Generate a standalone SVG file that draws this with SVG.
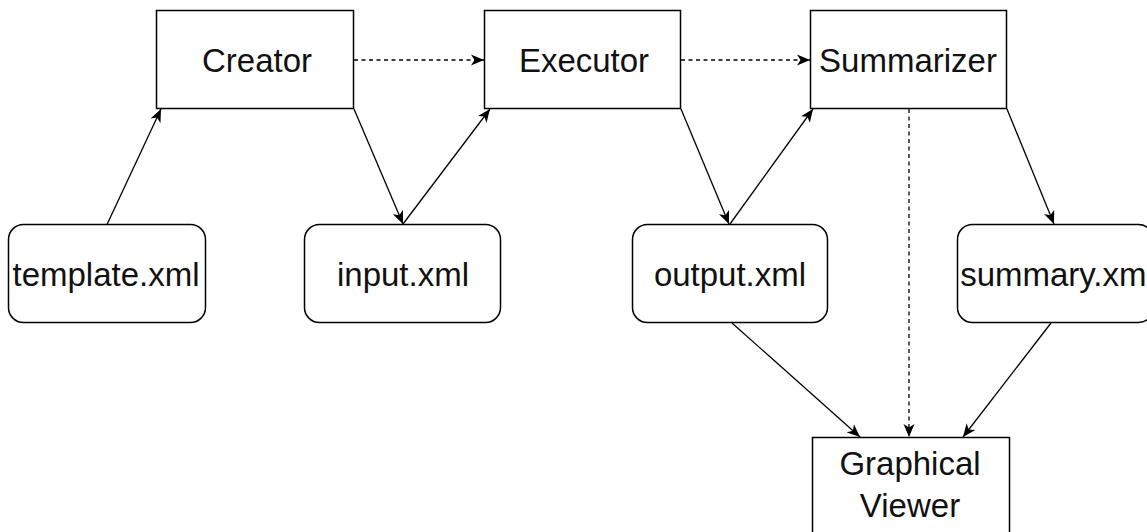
<svg xmlns="http://www.w3.org/2000/svg" width="1147" height="532" viewBox="0 0 1147 532">
<style>
.box{fill:#fff;stroke:#000;stroke-width:1.5}
.lbl{font-family:"Liberation Sans",Arial,sans-serif;font-size:33px;fill:#111;text-anchor:middle}
.edge{fill:none;stroke:#000;stroke-width:1.3}
.dash{stroke-dasharray:4 3.5}
</style>
<defs>
<marker id="arr" markerUnits="userSpaceOnUse" markerWidth="14" markerHeight="12" viewBox="0 0 14 12" refX="13" refY="6" orient="auto">
<path d="M0,0.5 L13,6 L0,11.5 L3.5,6 Z" fill="#000"/>
</marker>
</defs>
<rect width="1147" height="532" fill="#fff"/>
<g id="connectors">
<path class="edge" d="M107,224.5 L161,109" marker-end="url(#arr)"/>
<path class="edge" d="M354,109 L403,224" marker-end="url(#arr)"/>
<path class="edge" d="M403,224 L490,109" marker-end="url(#arr)"/>
<path class="edge dash" d="M354,60 L484,60" marker-end="url(#arr)"/>
<path class="edge" d="M681,109 L729,224" marker-end="url(#arr)"/>
<path class="edge" d="M730,224 L813,109" marker-end="url(#arr)"/>
<path class="edge dash" d="M681,60 L810,60" marker-end="url(#arr)"/>
<path class="edge" d="M1007,109 L1054,224" marker-end="url(#arr)"/>
<path class="edge dash" d="M909,109 L909,437" marker-end="url(#arr)"/>
<path class="edge" d="M732,323 L860,437" marker-end="url(#arr)"/>
<path class="edge" d="M1051,323 L963,437" marker-end="url(#arr)"/>
</g>
<g id="creator">
<rect class="box" x="156.5" y="10.5" width="197" height="98"/>
<text class="lbl" x="257" y="72">Creator</text>
</g>
<g id="executor">
<rect class="box" x="484.5" y="10.5" width="196" height="98"/>
<text class="lbl" x="584" y="72">Executor</text>
</g>
<g id="summarizer">
<rect class="box" x="810.5" y="10.5" width="196" height="98"/>
<text class="lbl" x="908" y="72">Summarizer</text>
</g>
<g id="template">
<rect class="box" x="8.5" y="224.5" width="197" height="98" rx="15" ry="15"/>
<text class="lbl" x="106" y="286">template.xml</text>
</g>
<g id="input">
<rect class="box" x="304.5" y="224.5" width="196" height="98" rx="15" ry="15"/>
<text class="lbl" x="403" y="286">input.xml</text>
</g>
<g id="output">
<rect class="box" x="632.5" y="224.5" width="195" height="98" rx="15" ry="15"/>
<text class="lbl" x="730" y="286">output.xml</text>
</g>
<g id="summary">
<rect class="box" x="957.5" y="224.5" width="196" height="98" rx="15" ry="15"/>
<text class="lbl" x="1057" y="286">summary.xml</text>
</g>
<g id="viewer">
<rect class="box" x="812.5" y="437.5" width="197" height="98"/>
<text class="lbl" x="910" y="475">Graphical</text>
<text class="lbl" x="910" y="517">Viewer</text>
</g>
</svg>
